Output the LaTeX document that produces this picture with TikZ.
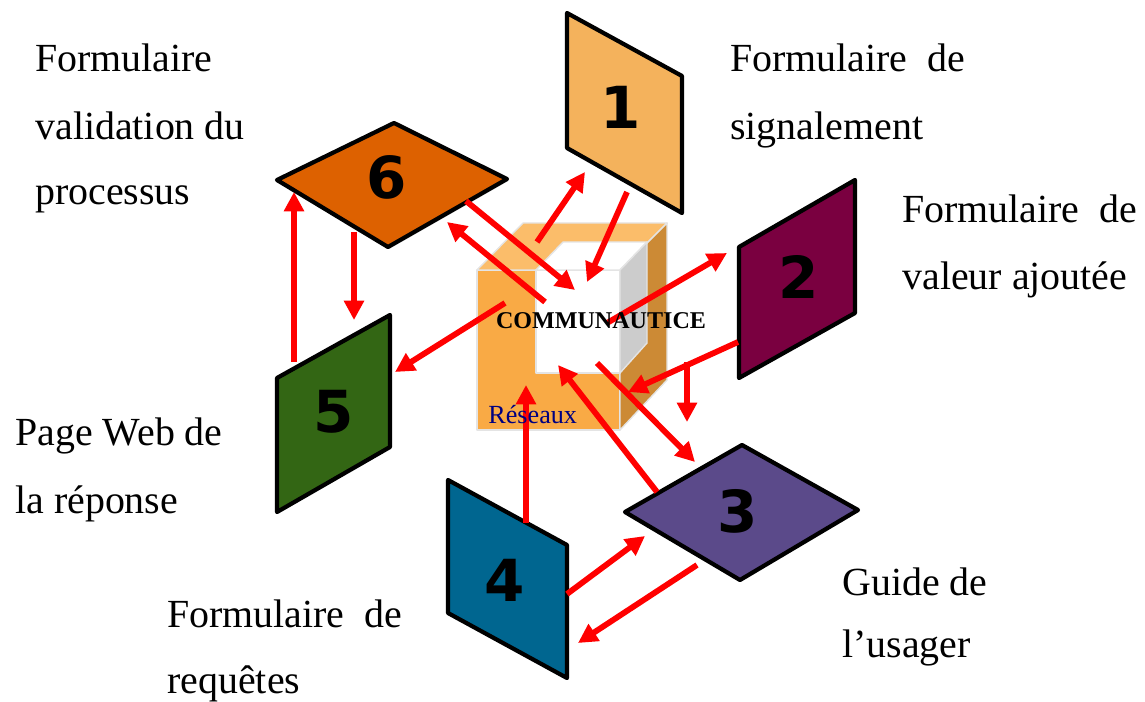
\documentclass[tikz,border=0pt]{standalone}
\usepackage{fontspec}
\setmainfont{Liberation Serif}
\newfontfamily\chiffres{DejaVu Sans}
\usetikzlibrary{arrows.meta, calc}
\definecolor{rougefleche}{HTML}{FF0000}
\definecolor{panneauun}{HTML}{F4B25C}
\definecolor{panneaudeux}{HTML}{7A0040}
\definecolor{panneautrois}{HTML}{5B4A8A}
\definecolor{panneauquatre}{HTML}{006690}
\definecolor{panneaucinq}{HTML}{336614}
\definecolor{panneausix}{HTML}{DD6100}
\definecolor{cubeface}{HTML}{F9AA45}
\definecolor{cubedessus}{HTML}{FBBD6A}
\definecolor{cubecote}{HTML}{CC8A35}
\definecolor{cubegris}{HTML}{CCCCCC}
\definecolor{cubetrait}{HTML}{E4E4E4}
\definecolor{reseaubleu}{HTML}{000080}
\newcommand{\espace}{\hspace{0.5em}}

\begin{document}
\begin{tikzpicture}[x=0.02cm, y=-0.02cm, >={Triangle[length=11pt,width=11pt]},
  panneau/.style={draw=black, line width=2.4pt, line join=round},
  fleche/.style={->, draw=rougefleche, line width=3.3pt},
  chiffre/.style={font=\chiffres\bfseries\fontsize{33}{33}\selectfont, inner sep=0pt},
  etiquette/.style={anchor=base west, inner sep=0pt, font=\fontsize{22.7}{27}\selectfont}]

  \useasboundingbox (0,0) rectangle (1145,702);

  % Panneaux
  \filldraw[panneau, fill=panneauun] (567,13) -- (682,76) -- (682,213) -- (567,148) -- cycle;
  \filldraw[panneau, fill=panneaudeux] (739,247) -- (855,180) -- (855,313) -- (739,378) -- cycle;
  \filldraw[panneau, fill=panneautrois] (625,512) -- (742,445) -- (858,510) -- (740,580) -- cycle;
  \filldraw[panneau, fill=panneauquatre] (448,480) -- (567,545) -- (567,678) -- (448,613) -- cycle;
  \filldraw[panneau, fill=panneaucinq] (277,378) -- (390,315) -- (390,447) -- (277,512) -- cycle;
  \filldraw[panneau, fill=panneausix] (277,180) -- (394,123) -- (507,179) -- (388,247) -- cycle;

  \node[chiffre] (p1) at (621,107) {1};
  \node[chiffre] (p2) at (799,277) {2};
  \node[chiffre] (p3) at (738,511) {3};
  \node[chiffre] (p4) at (505,580) {4};
  \node[chiffre] (p5) at (334,412) {5};
  \node[chiffre] (p6) at (387,177) {6};

  % Cube
  \begin{scope}[draw=cubetrait, line width=0.8pt, line join=round]
    \filldraw[fill=cubeface] (477,270) -- (620,270) -- (620,430) -- (477,430) -- cycle;
    \filldraw[fill=cubedessus] (477,270) -- (523,223) -- (667,223) -- (620,270) -- cycle;
    \filldraw[fill=cubecote] (620,270) -- (667,223) -- (667,380) -- (620,430) -- cycle;
    \filldraw[fill=white] (536,270) -- (620,270) -- (620,373) -- (536,373) -- cycle;
    \filldraw[fill=white] (536,270) -- (563,242) -- (647,242) -- (620,270) -- cycle;
    \filldraw[fill=cubegris] (620,270) -- (647,242) -- (647,343) -- (620,373) -- cycle;
  \end{scope}

  % Points de depart et d'arrivee des fleches
  \coordinate (d1) at (537,242);  \coordinate (f1) at (585,172);
  \coordinate (d2) at (627,192);  \coordinate (f2) at (587,282);
  \coordinate (d3) at (466,201);  \coordinate (f3) at (575,290);
  \coordinate (d4) at (545,302);  \coordinate (f4) at (447,222);
  \coordinate (d5) at (505,303);  \coordinate (f5) at (395,372);
  \coordinate (d6) at (607,323);  \coordinate (f6) at (727,253);
  \coordinate (d7) at (738,342);  \coordinate (f7) at (628,392);
  \coordinate (d8) at ($(d7)!0.46!(f7)$);  \coordinate (f8) at (687,422);
  \coordinate (d9) at (597,363);  \coordinate (f9) at (695,462);
  \coordinate (d10) at (657,492); \coordinate (f10) at (558,365);
  \coordinate (d11) at (526,523); \coordinate (f11) at (526,385);
  \coordinate (d12) at (567,594); \coordinate (f12) at (645,536);
  \coordinate (d13) at (697,565); \coordinate (f13) at (578,643);
  \coordinate (d14) at (294,362); \coordinate (f14) at (294,192);
  \coordinate (d15) at (354,232); \coordinate (f15) at (354,320);

  % Fleches
  \foreach \i in {1,...,7,9,10,...,15}
    \draw[fleche] (d\i) -- (f\i);
  \draw[fleche] (d8) -- (f8 |- d8) -- (f8);

  % Textes du cube
  \node[font=\bfseries\fontsize{13.7}{14}\selectfont, inner sep=0pt, anchor=base] (commu) at (601,328) {COMMUNAUTICE};
  \node[font=\fontsize{14.9}{15}\selectfont, text=reseaubleu, inner sep=0pt, anchor=base west] (reseaux) at (488,423) {Réseaux};

  % Etiquettes
  \node[etiquette] (e6a) at (35,72) {Formulaire};
  \node[etiquette] (e6b) at (35,140) {validation du};
  \node[etiquette] (e6c) at (35,205) {processus};
  \node[etiquette] (e1a) at (730,72) {Formulaire\espace de};
  \node[etiquette] (e1b) at (730,140) {signalement};
  \node[etiquette] (e2a) at (902,223) {Formulaire\espace de};
  \node[etiquette] (e2b) at (902,290) {valeur ajoutée};
  \node[etiquette] (e5a) at (15,445) {Page Web de};
  \node[etiquette] (e5b) at (15,513) {la réponse};
  \node[etiquette] (e4a) at (167,627) {Formulaire\espace de};
  \node[etiquette] (e4b) at (167,693) {requêtes};
  \node[etiquette] (e3a) at (842,595) {Guide de};
  \node[etiquette] (e3b) at (842,657) {l’usager};

\end{tikzpicture}
\end{document}
